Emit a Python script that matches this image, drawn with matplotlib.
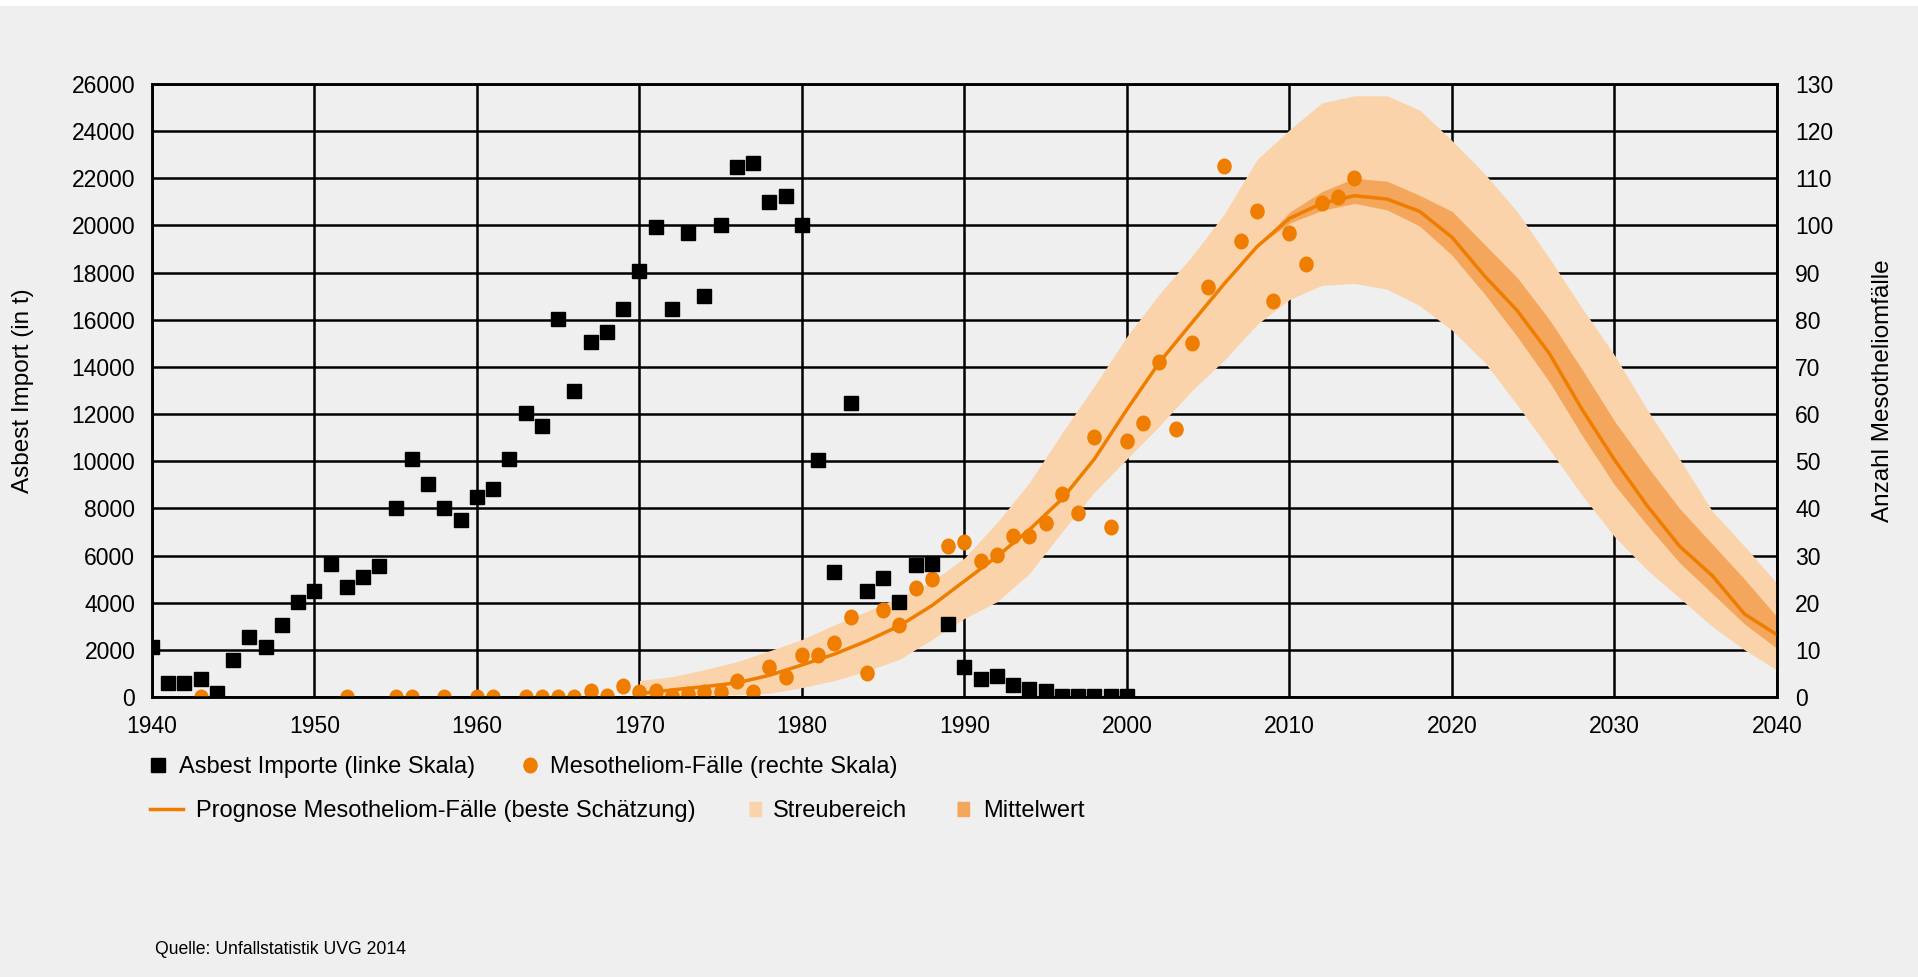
import numpy as np
import matplotlib
matplotlib.use('Agg')
import matplotlib.pyplot as plt
from matplotlib.lines import Line2D
from matplotlib.patches import Rectangle
from matplotlib.path import Path

plt.rcParams['font.family'] = ['Liberation Sans', 'DejaVu Sans']

# Asbest Importe in t (linke Skala), 1940-2000
import_years = list(range(1940, 2001))
import_t = [2100, 600, 600, 770, 170, 1560, 2530, 2100, 3070, 4040,
            4500, 5650, 4670, 5100, 5570, 8020, 10080, 9020, 8030, 7520,
            8480, 8830, 10080, 12030, 11500, 16050, 13000, 15050, 15500, 16450,
            18050, 19950, 16460, 19700, 17000, 20030, 22500, 22650, 21000, 21250,
            20000, 10050, 5300, 12450, 4500, 5050, 4050, 5580, 5620, 3080,
            1290, 780, 870, 500, 350, 260, 50, 50, 50, 50, 50]

# Mesotheliom-Faelle (rechte Skala)
meso_years = [1943, 1952, 1955, 1956, 1958, 1960, 1961, 1963, 1964, 1965, 1966] + list(range(1967, 2015))
meso_cases = [0] * 11 + [
    1.2, 0.3, 2.3, 1.0, 1.2, 0.3, 0.6, 1.0, 1.0, 3.3,
    1.0, 6.3, 4.2, 9.0, 9.0, 11.4, 17.0, 5.0, 18.4, 15.3,
    23.2, 25.0, 32.0, 32.8, 28.9, 30.2, 34.2, 34.2, 36.8, 43.0,
    39.1, 55.1, 36.1, 54.2, 58.1, 71.0, 56.9, 75.0, 87.0, 112.7,
    96.8, 103.1, 83.9, 98.3, 91.8, 104.8, 106.0, 110.0]

# Prognose: beste Schaetzung und Streubereich
fc_years = list(range(1970, 2041, 2))
fc_best = [0.7, 1.5, 2.2, 3.0, 4.6, 6.8, 9.1, 11.9, 15.1, 19.4,
           24.6, 29.8, 35.5, 42.0, 50.5, 61.0, 71.0, 79.4, 87.7, 95.5,
           101.5, 104.7, 106.3, 105.6, 103.0, 97.5, 89.3, 82.0, 72.8, 61.0,
           50.3, 40.6, 32.0, 25.8, 17.6, 13.2]
streu_lo = [0.0, 0.0, 0.3, 0.5, 0.8, 2.0, 3.5, 5.5, 8.0, 12.2,
            16.7, 20.2, 26.2, 35.0, 43.5, 50.5, 57.5, 65.0, 71.5, 79.0,
            84.3, 87.3, 87.7, 86.5, 83.0, 77.8, 71.0, 62.0, 52.5, 42.8,
            34.0, 27.0, 21.0, 15.0, 10.0, 5.7]
streu_hi = [3.5, 4.3, 5.8, 7.5, 9.8, 12.2, 15.3, 18.2, 21.2, 24.5,
            29.5, 37.0, 45.5, 56.0, 66.0, 76.5, 85.5, 93.5, 102.5, 114.0,
            120.3, 126.0, 127.5, 127.5, 124.5, 118.0, 111.0, 103.0, 93.0, 82.5,
            72.5, 61.0, 50.5, 39.5, 32.0, 24.1]

# Mittelwert-Band ab 2008
mw_years = list(range(2008, 2041, 2))
mw_lo = [95.5, 100.5, 103.2, 104.7, 103.3, 99.9, 93.7, 85.5, 76.5, 66.8,
         55.5, 45.0, 36.5, 28.5, 22.0, 15.5, 10.3]
mw_hi = [95.5, 102.8, 107.2, 110.0, 109.4, 106.4, 103.0, 96.0, 89.0, 80.0,
         69.5, 58.5, 49.0, 40.0, 32.5, 25.0, 17.0]

BG = '#efefef'
ORANGE = '#ee7d00'
LIGHT = '#fad3aa'
MID = '#f4a65c'

W, H = 1918, 977
fig = plt.figure(figsize=(W / 100, H / 100), dpi=100, facecolor=BG)
rect = [152 / W, 1 - 697 / H, 1625 / W, 613 / H]

# right-scale axes at the bottom: grid, bands, cases
axm = fig.add_axes(rect)
axm.set_facecolor(BG)
# left-scale axes on top: imports
axa = fig.add_axes(rect, sharex=axm)
axa.patch.set_visible(False)
axm.set_zorder(1)
axa.set_zorder(2)

axm.set_xlim(1940, 2040)
axm.set_ylim(0, 130)
axa.set_ylim(0, 26000)
axm.set_xticks(range(1940, 2041, 10))
axm.set_yticks(range(0, 131, 10))
axa.set_yticks(range(0, 26001, 2000))

axm.grid(True, color='black', lw=1.8)
axm.set_axisbelow(True)

axm.fill_between(fc_years, streu_lo, streu_hi, color=LIGHT, lw=0, zorder=1)
axm.fill_between(mw_years, mw_lo, mw_hi, color=MID, lw=0, zorder=2)
axm.plot(fc_years, fc_best, color=ORANGE, lw=2.5, solid_joinstyle='round', zorder=3)

# slightly tall dots
circ = Path.unit_circle()
dot = Path(circ.vertices * [0.9, 1.0], circ.codes)
axm.plot(meso_years, meso_cases, ls='none', marker=dot, ms=10.5, color=ORANGE,
         mec=ORANGE, zorder=4)

axa.plot(import_years, import_t, ls='none', marker='s', ms=10, color='black', zorder=5)

axm.yaxis.tick_right()
axm.yaxis.set_label_position('right')
axm.tick_params(axis='y', length=0, labelsize=16.5, pad=13)
axm.tick_params(axis='x', length=0, labelsize=16.5, pad=13)
axa.tick_params(axis='y', length=0, labelsize=16.5, pad=12)
axa.tick_params(axis='x', length=0, labelbottom=False)
for a in (axm, axa):
    for sp in a.spines.values():
        sp.set_linewidth(1.8)
        sp.set_color('black')

axa.set_ylabel('Asbest Import (in t)', fontsize=17.5)
axa.yaxis.set_label_coords((34 - 152) / 1625, 0.5)
axm.set_ylabel('Anzahl Mesotheliomfälle', fontsize=17.5)
axm.yaxis.set_label_coords((1872 - 152) / 1625, 0.5)

# legend, one entry at a time
rect_mk = [(-0.42, -0.5), (0.42, -0.5), (0.42, 0.5), (-0.42, 0.5)]
entries = [
    (Line2D([], [], ls='none', marker='s', ms=10, color='black'),
     'Asbest Importe (linke Skala)', 149, 767, 0.8, 0.49),
    (Line2D([], [], ls='none', marker=dot, ms=10.5, color=ORANGE),
     'Mesotheliom-Fälle (rechte Skala)', 520.5, 767, 0.8, 0.45),
    (Line2D([], [], color=ORANGE, lw=2.5),
     'Prognose Mesotheliom-Fälle (beste Schätzung)', 149.6, 811, 1.43, 0.53),
    (Line2D([], [], ls='none', marker=rect_mk, ms=9.6, color=LIGHT),
     'Streubereich', 745.6, 811, 0.8, 0.36),
    (Line2D([], [], ls='none', marker=rect_mk, ms=9.6, color=MID),
     'Mittelwert', 953.6, 811, 0.8, 0.45),
]
for handle, label, x, y, hl, pad in entries:
    fig.legend(handles=[handle], labels=[label], loc='center left',
               bbox_to_anchor=(x / W, 1 - y / H), frameon=False, fontsize=17,
               handlelength=hl, handletextpad=pad, borderpad=0, borderaxespad=0)

fig.text(155 / W, 1 - 950 / H, 'Quelle: Unfallstatistik UVG 2014', fontsize=12.7,
         va='center', ha='left')

fig.add_artist(Rectangle((0, 1 - 6 / H), 1, 6 / H, transform=fig.transFigure,
                         color='white', lw=0))

fig.savefig('out.png', dpi=100, facecolor=BG)
